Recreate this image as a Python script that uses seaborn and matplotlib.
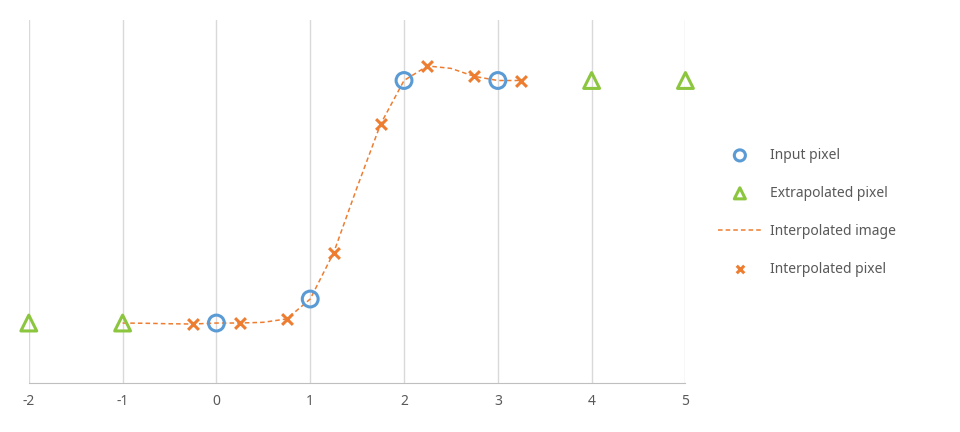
import matplotlib
matplotlib.use("Agg")
import matplotlib.pyplot as plt
import seaborn as sns
import pandas as pd

input_x = [0, 1, 2, 3]
input_y = [0.0, 0.099, 1.0, 1.0]
extra_x = [-2, -1, 4, 5]
extra_y = [0.0, 0.0, 1.0, 1.0]
curve_x = [-1, -0.75, -0.5, -0.25, 0, 0.25, 0.5, 0.75, 1, 1.25, 1.5, 1.75, 2, 2.25, 2.5, 2.75, 3, 3.25]
curve_y = [0.0, -0.001, -0.003, -0.004, 0.0, 0.0, 0.003, 0.017, 0.099, 0.29, 0.56, 0.82, 1.0, 1.06, 1.05, 1.017, 1.0, 1.0]
interp_x = [-0.25, 0.25, 0.75, 1.25, 1.75, 2.25, 2.75, 3.25]
interp_y = [-0.004, 0.0, 0.017, 0.29, 0.82, 1.06, 1.017, 1.0]
xticks = [-2, -1, 0, 1, 2, 3, 4, 5]

sns.set_style("white")
plt.rcParams['font.family'] = ['Noto Sans', 'DejaVu Sans']
blue, green, orange = "#5B9BD5", "#8CC63F", "#ED7D31"

fig = plt.figure(figsize=(9.6, 4.32), dpi=100)
ax = fig.add_axes([0.030, 0.113, 0.684, 0.841])
for x in xticks:
    ax.axvline(x, color="#D9D9D9", lw=1, zorder=0)

sns.lineplot(x=curve_x, y=curve_y, ax=ax, color=orange, lw=1.1, linestyle=(0, (3, 2)), label="Interpolated image", zorder=2)
sns.scatterplot(x=input_x, y=input_y, ax=ax, marker="o", s=130, facecolors="none", edgecolor=blue, linewidth=2.2, label="Input pixel", zorder=4, clip_on=False)
sns.scatterplot(x=extra_x, y=extra_y, ax=ax, marker="^", s=130, facecolors="none", edgecolor=green, linewidth=2.2, label="Extrapolated pixel", zorder=4, clip_on=False)
sns.scatterplot(x=interp_x, y=interp_y, ax=ax, marker="x", s=60, color=orange, linewidth=2.2, label="Interpolated pixel", zorder=3, clip_on=False)

ax.set_xlim(-2, 5)
ax.set_ylim(-0.248, 1.25)
ax.set_xticks(xticks)
ax.set_xticklabels([str(v) for v in xticks], color="#595959", fontsize=10)
ax.set_yticks([])
for s in ["top", "right", "left"]:
    ax.spines[s].set_visible(False)
ax.spines["bottom"].set_color("#BFBFBF")
ax.tick_params(axis="x", length=0, pad=8)

h, l = ax.get_legend_handles_labels()
order = [l.index(n) for n in ["Input pixel", "Extrapolated pixel", "Interpolated image", "Interpolated pixel"]]
ax.legend([h[i] for i in order], [l[i] for i in order], loc="center left", bbox_to_anchor=(1.03, 0.47),
          frameon=False, fontsize=10, labelcolor="#595959", labelspacing=1.65, handlelength=3.2,
          markerscale=0.7, handletextpad=0.6)
fig.savefig("out.png", dpi=100)
